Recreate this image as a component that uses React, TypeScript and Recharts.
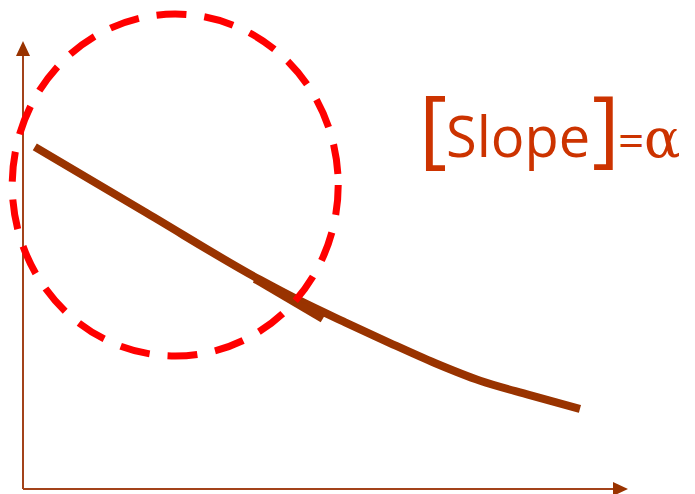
import React from 'react';
import {
  ComposedChart,
  Line,
  Scatter,
  XAxis,
  YAxis,
  ReferenceLine,
  Customized,
} from 'recharts';

// curve samples (x, y in arbitrary units 0-100)
const curveX = [2.0, 21.0, 40.2, 46.9, 54.6, 62.2, 69.8, 77.5, 85.9, 94.4];
const curveY = [79.0, 63.7, 48.3, 43.5, 38.5, 33.7, 29.1, 25.0, 21.7, 18.5];

// tangent segment drawn over the curve
const tangent = [
  { x: 39.3, y: 48.5 },
  { x: 50.8, y: 39.3 },
];

// centre of the highlight circle
const focus = [{ x: 25.8, y: 70.2 }];

const labelParts = ['[', 'Slope', ']', '=', 'α'];

const curveData = curveX.map((x, i) => ({ x, y: curveY[i] }));

const BROWN = '#993300';
const AXIS = '#a3431a';
const ACCENT = '#cc3300';

function Ellipse(props: any) {
  const { cx, cy } = props;
  return (
    <ellipse
      cx={cx}
      cy={cy}
      rx={163}
      ry={171}
      fill="none"
      stroke="#ff0000"
      strokeWidth={7}
      strokeDasharray="30 18"
    />
  );
}

function Defs() {
  return (
    <defs>
      <marker
        id="arrow"
        markerUnits="userSpaceOnUse"
        markerWidth={16}
        markerHeight={16}
        refX={0}
        refY={7}
        orient="auto-start-reverse"
      >
        <path d="M0,0 L15,7 L0,14 Z" fill={BROWN} />
      </marker>
    </defs>
  );
}

function SlopeLabel() {
  return (
    <text y={157} fill={ACCENT} fontFamily="'Open Sans', sans-serif">
      <tspan x={419} fontSize={86}>{labelParts[0]}</tspan>
      <tspan x={446} fontSize={56}>{labelParts[1]}</tspan>
      <tspan x={592} fontSize={84}>{labelParts[2]}</tspan>
      <tspan x={618} fontSize={46}>{labelParts[3]}</tspan>
      <tspan x={644} fontSize={54} fontFamily="'DejaVu Serif', serif">{labelParts[4]}</tspan>
    </text>
  );
}

export default function App() {
  return (
    <div style={{ position: 'fixed', left: 0, top: 0, background: '#fff' }}>
      <ComposedChart
        width={695}
        height={494}
        data={curveData}
        margin={{ top: 56, right: 82, bottom: 4, left: 22 }}
      >
        <Customized component={Defs} />
        <XAxis
          type="number"
          dataKey="x"
          domain={[0, 100]}
          height={1}
          tick={false}
          tickLine={false}
          axisLine={{ stroke: AXIS, strokeWidth: 2, markerEnd: 'url(#arrow)' }}
        />
        <YAxis
          type="number"
          dataKey="y"
          domain={[0, 100]}
          width={1}
          tick={false}
          tickLine={false}
          axisLine={{ stroke: AXIS, strokeWidth: 2, markerStart: 'url(#arrow)' }}
        />
        <Line
          type="monotone"
          dataKey="y"
          stroke={BROWN}
          strokeWidth={8}
          dot={false}
          isAnimationActive={false}
        />
        <ReferenceLine
          segment={tangent}
          stroke={BROWN}
          strokeWidth={8}
          ifOverflow="visible"
        />
        <Scatter data={focus} shape={Ellipse} isAnimationActive={false} />
        <Customized component={SlopeLabel} />
      </ComposedChart>
    </div>
  );
}
